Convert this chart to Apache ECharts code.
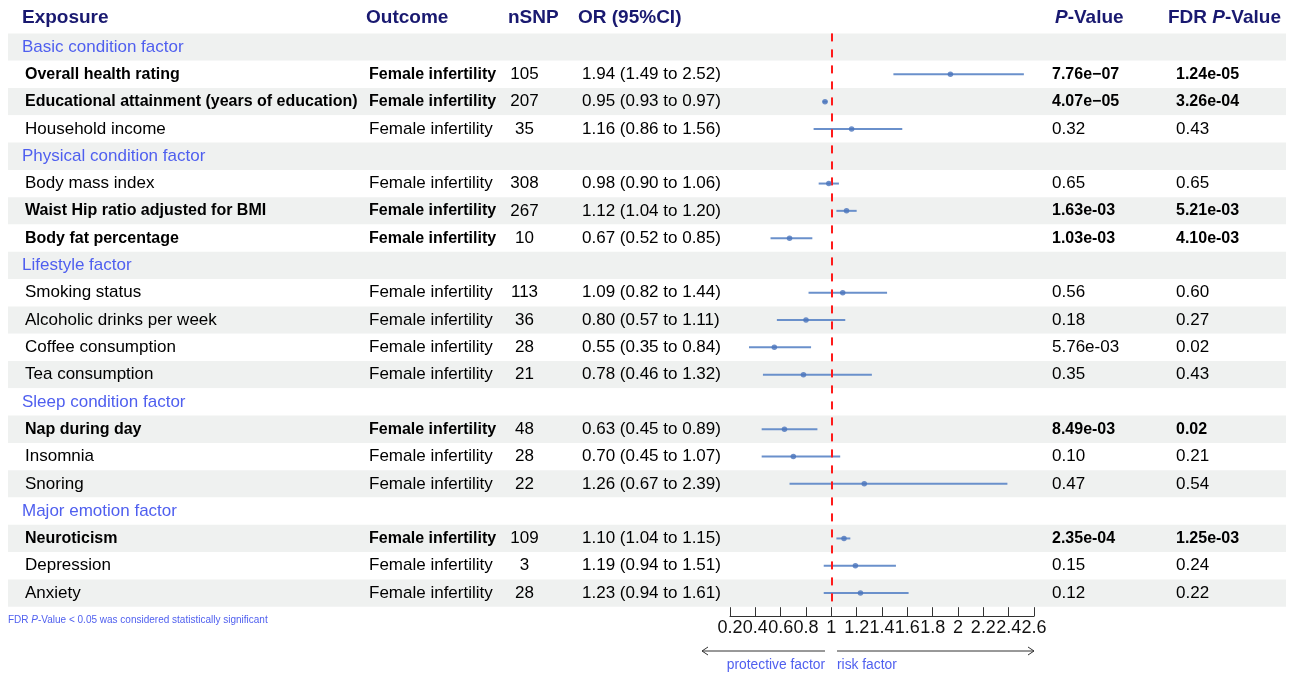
<!DOCTYPE html>
<html><head><meta charset="utf-8">
<script src="https://cdn.jsdelivr.net/npm/echarts@6/dist/echarts.min.js"></script>
<style>html,body{margin:0;padding:0;background:#fff}#c{width:1290px;height:673px}</style>
</head><body><div id="c"></div><script>
// ---------------- data ----------------
const rowLabels = [
  'Basic condition factor',
  'Overall health rating',
  'Educational attainment (years of education)',
  'Household income',
  'Physical condition factor',
  'Body mass index',
  'Waist Hip ratio adjusted for BMI',
  'Body fat percentage',
  'Lifestyle factor',
  'Smoking status',
  'Alcoholic drinks per week',
  'Coffee consumption',
  'Tea consumption',
  'Sleep condition factor',
  'Nap during day',
  'Insomnia',
  'Snoring',
  'Major emotion factor',
  'Neuroticism',
  'Depression',
  'Anxiety'
];
const isGroup = [true,false,false,false,true,false,false,false,true,false,false,false,false,true,false,false,false,true,false,false,false];
const outcomes = [null,'Female infertility','Female infertility','Female infertility',null,'Female infertility','Female infertility','Female infertility',null,'Female infertility','Female infertility','Female infertility','Female infertility',null,'Female infertility','Female infertility','Female infertility',null,'Female infertility','Female infertility','Female infertility'];
const nSNP = [null,105,207,35,null,308,267,10,null,113,36,28,21,null,48,28,22,null,109,3,28];
const orVal = [null,1.94,0.95,1.16,null,0.98,1.12,0.67,null,1.09,0.80,0.55,0.78,null,0.63,0.70,1.26,null,1.10,1.19,1.23];
const lower = [null,1.49,0.93,0.86,null,0.90,1.04,0.52,null,0.82,0.57,0.35,0.46,null,0.45,0.45,0.67,null,1.04,0.94,0.94];
const upper = [null,2.52,0.97,1.56,null,1.06,1.20,0.85,null,1.44,1.11,0.84,1.32,null,0.89,1.07,2.39,null,1.15,1.51,1.61];
const pValues = [null,'7.76e\u221207','4.07e\u221205','0.32',null,'0.65','1.63e-03','1.03e-03',null,'0.56','0.18','5.76e-03','0.35',null,'8.49e-03','0.10','0.47',null,'2.35e-04','0.15','0.12'];
const fdrValues = [null,'1.24e-05','3.26e-04','0.43',null,'0.65','5.21e-03','4.10e-03',null,'0.60','0.27','0.02','0.43',null,'0.02','0.21','0.54',null,'1.25e-03','0.24','0.22'];
const significant = [false,true,true,false,false,false,true,true,false,false,false,false,false,false,true,false,false,false,true,false,false];
const xTicks = { min: 0.2, max: 2.6, interval: 0.2 };
const headers = ['Exposure','Outcome','nSNP','OR (95%CI)','P-Value','FDR P-Value'];

// ---------------- layout / style ----------------
const FONT = '"Liberation Sans", Arial, Helvetica, sans-serif';
const HEAD = '#191970';
const GROUPC = '#4F5FEF';
const TOP = 33.4, BOTTOM_Y = 606.7;
const cats = rowLabels.map((_, i) => String(i));
const col = { group: 22, exposure: 25, outcome: 369, nsnp: 524.5, or: 582, p: 1052, fdr: 1176 };

function txt(x, y, text, bold, color, align) {
  return {
    type: 'text', x: x, y: y, silent: true,
    style: {
      text: text, fill: color || '#000', align: align || 'left', verticalAlign: 'middle',
      fontFamily: FONT, fontSize: bold ? 16 : 17, fontWeight: bold ? 'bold' : 'normal'
    }
  };
}
function orText(i) {
  return orVal[i].toFixed(2) + ' (' + lower[i].toFixed(2) + ' to ' + upper[i].toFixed(2) + ')';
}

const tableData = rowLabels.map((_, i) => [700, i]);
const ciData = [], dotData = [];
rowLabels.forEach((_, i) => {
  if (!isGroup[i]) { ciData.push([orVal[i], i, lower[i], upper[i]]); dotData.push([orVal[i], i]); }
});

function headerText(x, parts) {
  return {
    type: 'text', x: x, y: 18, silent: true,
    style: {
      text: parts, fill: HEAD, verticalAlign: 'middle',
      fontFamily: FONT, fontSize: 19, fontWeight: 'bold',
      rich: {
        i: { fontFamily: FONT, fontSize: 19, fontWeight: 'bold', fontStyle: 'italic', fill: HEAD },
        n: { fontFamily: FONT, fontSize: 19, fontWeight: 'bold', fill: HEAD }
      }
    }
  };
}

const arrowY = 651;
const option = {
  backgroundColor: '#fff',
  animation: false,
  grid: [
    { left: 8, right: 4, top: TOP, height: BOTTOM_Y - TOP },
    { left: 730, width: 304, top: TOP, height: BOTTOM_Y - TOP }
  ],
  xAxis: [
    { gridIndex: 0, type: 'value', min: 8, max: 1286, show: false },
    {
      gridIndex: 1, type: 'value', min: xTicks.min, max: xTicks.max, interval: xTicks.interval,
      position: 'bottom', offset: 9.5,
      axisLine: { show: true, lineStyle: { color: '#333', width: 1 } },
      axisTick: { show: true, inside: true, length: 9, lineStyle: { color: '#333', width: 1 } },
      axisLabel: { margin: 3, fontSize: 18, color: '#111', fontFamily: FONT, hideOverlap: false,
        formatter: v => String(parseFloat(v.toFixed(1))) },
      splitLine: { show: false }
    }
  ],
  yAxis: [
    { gridIndex: 0, type: 'category', data: cats, inverse: true,
      axisLine: { show: false }, axisTick: { show: false }, axisLabel: { show: false },
      splitLine: { show: false },
      splitArea: { show: true, areaStyle: { color: ['#EFF1F0', '#FFFFFF'] } } },
    { gridIndex: 1, type: 'category', data: cats, inverse: true, show: false }
  ],
  series: [
    {
      type: 'custom', xAxisIndex: 0, yAxisIndex: 0, silent: true, z: 5,
      data: tableData,
      renderItem: function (params, api) {
        const i = api.value(1);
        const y = api.coord([700, i])[1];
        const b = significant[i];
        const ch = [];
        if (isGroup[i]) {
          ch.push(txt(col.group, y, rowLabels[i], false, GROUPC));
        } else {
          ch.push(txt(col.exposure, y, rowLabels[i], b));
          ch.push(txt(col.outcome, y, outcomes[i], b));
          ch.push(txt(col.nsnp, y, String(nSNP[i]), false, '#000', 'center'));
          ch.push(txt(col.or, y, orText(i), false));
          ch.push(txt(col.p, y, pValues[i], b));
          ch.push(txt(col.fdr, y, fdrValues[i], b));
        }
        return { type: 'group', children: ch };
      }
    },
    {
      type: 'custom', xAxisIndex: 1, yAxisIndex: 1, silent: true, z: 6,
      data: ciData,
      renderItem: function (params, api) {
        const i = api.value(1);
        const a = api.coord([api.value(2), i]);
        const c = api.coord([api.value(3), i]);
        return { type: 'line', shape: { x1: a[0], y1: a[1], x2: c[0], y2: c[1] },
          style: { stroke: '#6A90CB', lineWidth: 2 } };
      }
    },
    {
      type: 'scatter', xAxisIndex: 1, yAxisIndex: 1, silent: true, z: 8,
      symbol: 'circle', symbolSize: 5.5,
      itemStyle: { color: '#4A74BC' },
      data: dotData,
      markLine: {
        silent: true, symbol: 'none', label: { show: false }, z: 7,
        lineStyle: { color: '#FF1A1A', type: [8, 8], width: 2 },
        data: [{ xAxis: 1 }]
      }
    }
  ],
  graphic: [
    headerText(22, '{n|' + headers[0] + '}'),
    headerText(366, '{n|' + headers[1] + '}'),
    headerText(508, '{n|' + headers[2] + '}'),
    headerText(578, '{n|' + headers[3] + '}'),
    headerText(1055, '{i|P}{n|-Value}'),
    headerText(1168, '{n|FDR }{i|P}{n|-Value}'),
    {
      type: 'text', x: 8, y: 620, silent: true,
      style: { text: '{n|FDR }{i|P}{n|-Value < 0.05 was considered statistically significant}',
        verticalAlign: 'middle', fill: GROUPC, fontFamily: FONT, fontSize: 10,
        rich: { n: { fontFamily: FONT, fontSize: 10, fill: GROUPC },
                i: { fontFamily: FONT, fontSize: 10, fontStyle: 'italic', fill: GROUPC } } }
    },
    { type: 'polyline', silent: true, shape: { points: [[825, arrowY], [702, arrowY]] }, style: { stroke: '#333', lineWidth: 1 } },
    { type: 'polyline', silent: true, shape: { points: [[708, arrowY - 4], [702, arrowY], [708, arrowY + 4]] }, style: { stroke: '#333', lineWidth: 1, fill: null } },
    { type: 'polyline', silent: true, shape: { points: [[837, arrowY], [1034, arrowY]] }, style: { stroke: '#333', lineWidth: 1 } },
    { type: 'polyline', silent: true, shape: { points: [[1028, arrowY - 4], [1034, arrowY], [1028, arrowY + 4]] }, style: { stroke: '#333', lineWidth: 1, fill: null } },
    { type: 'text', x: 825, y: 665, silent: true, style: { text: 'protective factor', align: 'right', verticalAlign: 'middle', fill: GROUPC, fontFamily: FONT, fontSize: 13.8 } },
    { type: 'text', x: 837, y: 665, silent: true, style: { text: 'risk factor', align: 'left', verticalAlign: 'middle', fill: GROUPC, fontFamily: FONT, fontSize: 13.8 } }
  ]
};
const chart = echarts.init(document.getElementById('c'));
chart.setOption(option);
</script></body></html>
